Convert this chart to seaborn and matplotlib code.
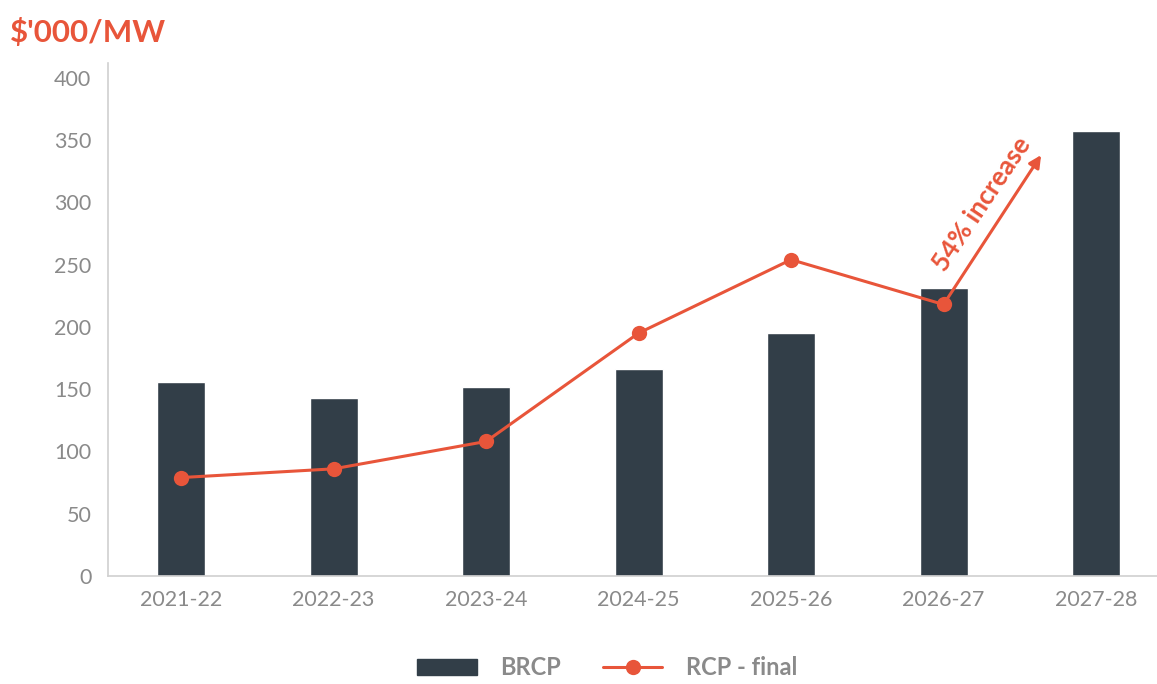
import matplotlib
matplotlib.use("Agg")
import matplotlib.pyplot as plt
import seaborn as sns
import pandas as pd
from matplotlib.lines import Line2D
from matplotlib.patches import Patch

years = ["2021-22", "2022-23", "2023-24", "2024-25", "2025-26", "2026-27", "2027-28"]
brcp = [156, 143, 152, 166, 195, 231, 357]
rcp_years = ["2021-22", "2022-23", "2023-24", "2024-25", "2025-26", "2026-27"]
rcp_final = [79, 86, 108, 195, 254, 218]
yticks = [0, 50, 100, 150, 200, 250, 300, 350, 400]

BAR = "#323E48"
ORANGE = "#E8553A"
GREY = "#8A8A8A"

sns.set_theme(style="white")
plt.rcParams['font.family'] = ['Lato', 'DejaVu Sans']

fig = plt.figure(figsize=(11.57, 6.84), dpi=100)
ax = fig.add_axes([0.0933, 0.158, 0.9067, 0.750])

df = pd.DataFrame({"year": years, "BRCP": brcp})
sns.barplot(data=df, x="year", y="BRCP", color=BAR, width=0.315, ax=ax,
            saturation=1, order=years)

xpos = [years.index(y) for y in rcp_years]
sns.lineplot(x=xpos, y=rcp_final, ax=ax, color=ORANGE, linewidth=2.2,
             marker="o", markersize=11, markeredgewidth=0, sort=False)

ax.set_xlim(-0.48, 6.4)
ax.set_ylim(0, 412)
ax.set_yticks(yticks)
ax.set_xlabel("")
ax.set_ylabel("")
for s in ["top", "right"]:
    ax.spines[s].set_visible(False)
for s in ["left", "bottom"]:
    ax.spines[s].set_color("#D0D0D0")
    ax.spines[s].set_linewidth(1.2)
ax.tick_params(axis="both", colors=GREY, labelsize=15.5, length=0, pad=12)
ax.tick_params(axis="x", pad=10)

# arrow
ax.annotate("", xy=(5.64, 338), xytext=(5, rcp_final[-1]),
            arrowprops=dict(arrowstyle="-|>", color=ORANGE, lw=2.2,
                            mutation_scale=18, shrinkA=0, shrinkB=0))
ax.text(5.25, 299, "54% increase", rotation=56, color=ORANGE, fontsize=19,
        fontweight="bold", ha="center", va="center", rotation_mode="anchor")

fig.text(0.009, 0.953, "$'000/MW", color=ORANGE, fontsize=22.5, fontweight="bold",
         ha="left", va="center")

handles = [Patch(facecolor=BAR, edgecolor=BAR),
           Line2D([0], [0], color=ORANGE, lw=2.2, marker="o", markersize=11,
                  markeredgewidth=0)]
fig.legend(handles, ["BRCP", "RCP - final"], loc="center", ncol=2,
           bbox_to_anchor=(0.525, 0.024), frameon=False,
           labelcolor=GREY, handlelength=2.5, columnspacing=1.8, handletextpad=1.0,
           prop={"weight": "bold", "size": 17})

fig.savefig("out.png", dpi=100)
